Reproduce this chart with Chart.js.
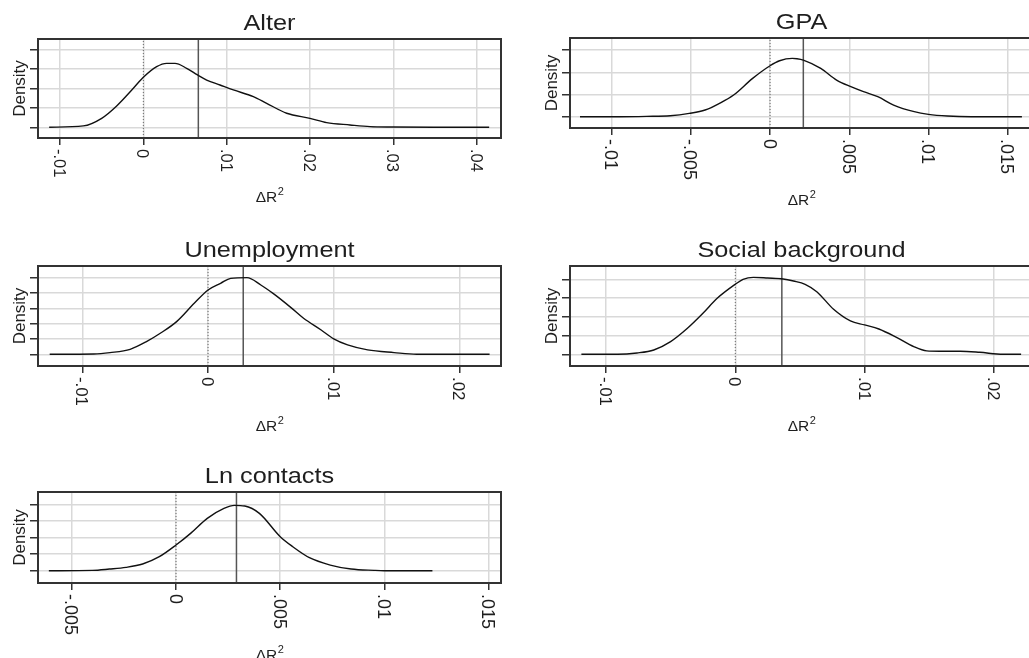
<!DOCTYPE html>
<html>
<head>
<meta charset="utf-8">
<script src="https://cdn.jsdelivr.net/npm/chart.js@4"></script>
<style>
html, body { margin: 0; padding: 0; background: #fff; overflow: hidden; width: 1029px; height: 658px; }
canvas { position: absolute; left: 0; top: 0; }
</style>
</head>
<body>
<canvas id="c1" width="1040" height="658"></canvas>
<canvas id="c2" width="1040" height="658"></canvas>
<canvas id="c3" width="1040" height="658"></canvas>
<canvas id="c4" width="1040" height="658"></canvas>
<canvas id="c5" width="1040" height="658"></canvas>
<script>
// Werte (Dichteschaetzungen von Delta R^2)
var alterX = [-0.0113, -0.0072, -0.0050, -0.0032, -0.0012, 0.0000, 0.0016, 0.0028, 0.0038, 0.0052, 0.0065, 0.0076, 0.0092, 0.0108, 0.0132, 0.0148, 0.0172, 0.0200, 0.0220, 0.0248, 0.0272, 0.0300, 0.0348, 0.0415];
var alterY = [0, 1.4, 9.2, 21.9, 40, 51.3, 62.2, 65.6, 65.6, 60.5, 53.7, 48.5, 43.4, 38.3, 31.5, 24.6, 14.4, 9.2, 4.8, 2.4, 0.7, 0.3, 0, 0];
var alterMean = 0.0066;

var gpaX = [-0.0120, -0.0095, -0.0078, -0.0063, -0.0051, -0.0041, -0.0032, -0.0023, -0.0011, 0.0000, 0.0006, 0.0014, 0.0017, 0.0021, 0.0032, 0.0042, 0.0051, 0.0059, 0.0068, 0.0078, 0.0091, 0.0100, 0.0112, 0.0127, 0.0159];
var gpaY = [0, 0, 0.6, 1.8, 6, 12, 24, 39, 69, 91.8, 100.8, 105, 104.4, 102, 87, 66, 54, 45, 36, 21, 9, 4.2, 1.2, 0, 0];
var gpaMean = 0.0021;

var unempX = [-0.0126, -0.0091, -0.0078, -0.0062, -0.0049, -0.0038, -0.0025, -0.0011, 0.0000, 0.0010, 0.0018, 0.0031, 0.0042, 0.0052, 0.0066, 0.0076, 0.0090, 0.0100, 0.0111, 0.0127, 0.0148, 0.0166, 0.0224];
var unempY = [0, 0.4, 2.2, 6.5, 16.5, 27.4, 42.6, 66.5, 83.9, 92.6, 99.1, 100, 90.4, 79.1, 60.9, 47, 31.7, 20, 12.2, 5.7, 2.2, 0, 0];
var unempMean = 0.0028;

var socialX = [-0.0119, -0.0091, -0.0076, -0.0063, -0.0050, -0.0037, -0.0025, -0.0014, 0.0000, 0.0006, 0.0014, 0.0025, 0.0037, 0.0045, 0.0054, 0.0063, 0.0076, 0.0089, 0.0100, 0.0111, 0.0125, 0.0138, 0.0148, 0.0158, 0.0174, 0.0189, 0.0207, 0.0221];
var socialY = [0, 0, 1.4, 4.6, 13.5, 27.7, 43.7, 59.7, 74.7, 80, 82.1, 81.4, 80.4, 78.2, 74.7, 66.8, 48, 35.6, 31.3, 27, 17.8, 8.2, 3.6, 3.2, 3.2, 2.1, 0, 0];
var socialMean = 0.0036;

var lnX = [-0.0061, -0.0040, -0.0032, -0.0024, -0.0016, -0.0008, 0.0000, 0.0007, 0.0015, 0.0023, 0.0028, 0.0033, 0.0040, 0.0050, 0.0056, 0.0064, 0.0074, 0.0084, 0.0095, 0.0100, 0.0123];
var lnY = [0, 0.8, 4, 8.1, 16.2, 33.9, 62.2, 90.5, 126.9, 151, 158.4, 156.8, 139, 82.4, 58.2, 31.5, 13.7, 4, 0.8, 0, 0];
var lnMean = 0.0029;

// Achsenticks
var ticksA = [-0.01, 0, 0.01, 0.02, 0.03, 0.04];
var labelsA = ['-.01', '0', '.01', '.02', '.03', '.04'];
var ticksB = [-0.01, -0.005, 0, 0.005, 0.01, 0.015];
var labelsB = ['-.01', '-.005', '0', '.005', '.01', '.015'];
var ticksC = [-0.01, 0, 0.01, 0.02];
var labelsC = ['-.01', '0', '.01', '.02'];
var ticksD = [-0.005, 0, 0.005, 0.01, 0.015];
var labelsD = ['-.005', '0', '.005', '.01', '.015'];

var alterDensTicks = [0, 20, 40, 60, 80];
var gpaDensTicks = [0, 40, 80, 120];
var unempDensTicks = [0, 20, 40, 60, 80, 100];
var socialDensTicks = [0, 20, 40, 60, 80];
var lnDensTicks = [0, 40, 80, 120, 160];

var FONT = '"Liberation Sans", Arial, sans-serif';

// Rahmen, Titel, gedrehte Ticklabels, Achsentitel
var panelText = {
  id: 'panelText',
  afterDraw: function (chart, args, opts) {
    var ctx = chart.ctx, a = chart.chartArea, xs = chart.scales.x;
    var cx = (a.left + a.right) / 2;
    ctx.save();
    ctx.strokeStyle = '#333';
    ctx.lineWidth = 2;
    ctx.strokeRect(a.left, a.top, a.right - a.left, a.bottom - a.top);
    ctx.fillStyle = '#1e1e1e';

    // titel (leicht breit gezogen wie im Original)
    ctx.save();
    ctx.font = '22px ' + FONT;
    ctx.textAlign = 'center';
    ctx.textBaseline = 'alphabetic';
    ctx.translate(cx, a.top - 9);
    ctx.scale(1.15, 1);
    ctx.fillText(opts.title, 0, 0);
    ctx.restore();

    // x ticklabels, im Uhrzeigersinn gedreht
    var fs = opts.fs;
    ctx.font = fs + 'px ' + FONT;
    var maxLen = 0;
    for (var i = 0; i < opts.ticks.length; i++) {
      var px = xs.getPixelForValue(opts.ticks[i]);
      var w = ctx.measureText(opts.labels[i]).width;
      if (w > maxLen) maxLen = w;
      ctx.save();
      ctx.translate(px, a.bottom + 11);
      ctx.rotate(Math.PI / 2);
      ctx.textAlign = 'left';
      ctx.textBaseline = 'alphabetic';
      ctx.fillText(opts.labels[i], 0, fs * 0.36);
      ctx.restore();
    }

    // Delta R^2
    var base = a.bottom + 11 + maxLen + 14 + 11;
    ctx.font = '15.5px ' + FONT;
    var w1 = ctx.measureText('\u0394R').width;
    ctx.font = '11px ' + FONT;
    var w2 = ctx.measureText('2').width;
    var x0 = cx - (w1 + w2) / 2;
    ctx.textAlign = 'left';
    ctx.font = '15.5px ' + FONT;
    ctx.fillText('\u0394R', x0, base);
    ctx.font = '11px ' + FONT;
    ctx.fillText('2', x0 + w1 + 0.5, base - 7);

    // Density
    ctx.save();
    ctx.font = '17px ' + FONT;
    ctx.textAlign = 'center';
    ctx.translate(a.left - 19.5, (a.top + a.bottom) / 2);
    ctx.rotate(-Math.PI / 2);
    ctx.fillText('Density', 0, 17 * 0.36);
    ctx.restore();

    ctx.restore();
  }
};

function toPoints(xv, yv) {
  return xv.map(function (v, i) { return { x: v, y: yv[i] }; });
}

function panel(id, p) {
  new Chart(document.getElementById(id), {
    type: 'line',
    data: {
      datasets: [
        { data: toPoints(p.x, p.y), borderColor: '#111', borderWidth: 1.4, pointRadius: 0, cubicInterpolationMode: 'monotone' },
        { data: [{ x: 0, y: p.yMin }, { x: 0, y: p.yMax }], borderColor: '#666', borderWidth: 1, borderDash: [1, 2], pointRadius: 0 },
        { data: [{ x: p.mean, y: p.yMin }, { x: p.mean, y: p.yMax }], borderColor: '#555', borderWidth: 1.5, pointRadius: 0 }
      ]
    },
    options: {
      responsive: false,
      animation: false,
      devicePixelRatio: 1,
      events: [],
      layout: { padding: p.pad },
      plugins: {
        legend: { display: false },
        tooltip: { enabled: false },
        panelText: { title: p.title, ticks: p.xTicks, labels: p.xLabels, fs: p.fs }
      },
      scales: {
        x: {
          type: 'linear', min: p.xMin, max: p.xMax,
          afterBuildTicks: function (s) { s.ticks = p.xTicks.map(function (v) { return { value: v }; }); },
          afterFit: function (s) { s.height = 0; },
          ticks: { display: false },
          border: { display: false },
          grid: { color: '#d9d9d9', lineWidth: 1.5, tickLength: 7, tickColor: '#333', tickWidth: 1.5 }
        },
        y: {
          type: 'linear', min: p.yMin, max: p.yMax,
          afterBuildTicks: function (s) { s.ticks = p.yTicks.map(function (v) { return { value: v }; }); },
          afterFit: function (s) { s.width = 0; },
          ticks: { display: false },
          border: { display: false },
          grid: { color: '#d9d9d9', lineWidth: 1.5, tickLength: 8, tickColor: '#333', tickWidth: 1.5 }
        }
      }
    },
    plugins: [panelText]
  });
}

panel('c1', { title: 'Alter', x: alterX, y: alterY, mean: alterMean, xTicks: ticksA, xLabels: labelsA, yTicks: alterDensTicks, fs: 16.5,
  xMin: -0.01264, xMax: 0.04292, yMin: -11.0, yMax: 90.6, pad: { left: 38, top: 39, right: 539, bottom: 520 } });
panel('c2', { title: 'GPA', x: gpaX, y: gpaY, mean: gpaMean, xTicks: ticksB, xLabels: labelsB, yTicks: gpaDensTicks, fs: 18,
  xMin: -0.01263, xMax: 0.0166, yMin: -20.4, yMax: 141.8, pad: { left: 570, top: 38, right: 7, bottom: 530 } });
panel('c3', { title: 'Unemployment', x: unempX, y: unempY, mean: unempMean, xTicks: ticksC, xLabels: labelsC, yTicks: unempDensTicks, fs: 16.8,
  xMin: -0.01353, xMax: 0.02331, yMin: -15.3, yMax: 115.2, pad: { left: 38, top: 266, right: 539, bottom: 292 } });
panel('c4', { title: 'Social background', x: socialX, y: socialY, mean: socialMean, xTicks: ticksC, xLabels: labelsC, yTicks: socialDensTicks, fs: 16.8,
  xMin: -0.01278, xMax: 0.02302, yMin: -12.5, yMax: 94.2, pad: { left: 570, top: 266, right: 7, bottom: 292 } });
panel('c5', { title: 'Ln contacts', x: lnX, y: lnY, mean: lnMean, xTicks: ticksD, xLabels: labelsD, yTicks: lnDensTicks, fs: 18,
  xMin: -0.00662, xMax: 0.01559, yMin: -29.8, yMax: 190.8, pad: { left: 38, top: 492, right: 539, bottom: 75 } });
</script>
</body>
</html>
